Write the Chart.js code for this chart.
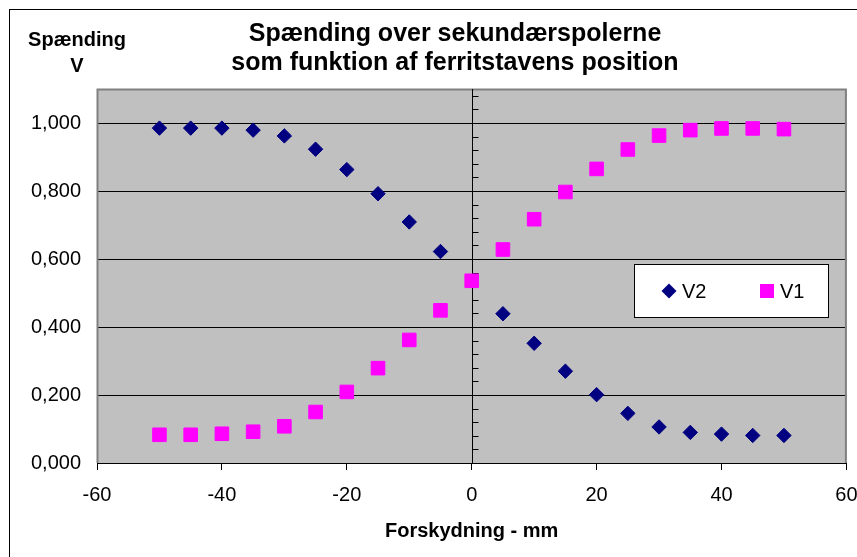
<!DOCTYPE html>
<html>
<head>
<meta charset="utf-8">
<title>Spænding over sekundærspolerne</title>
<script src="https://cdn.jsdelivr.net/npm/chart.js@4.4.1/dist/chart.umd.min.js"></script>
<style>
  html, body { margin: 0; padding: 0; background: #fff; }
  #wrap { width: 857px; height: 557px; }
</style>
</head>
<body>
<div id="wrap"><canvas id="chart" width="857" height="557"></canvas></div>
<script>
// Ferrite rod position (mm)
const positions = [-50, -45, -40, -35, -30, -25, -20, -15, -10, -5, 0, 5, 10, 15, 20, 25, 30, 35, 40, 45, 50];
// Voltage over secondary coil 2 (V)
const v2 = [0.985, 0.985, 0.985, 0.979, 0.962, 0.923, 0.863, 0.792, 0.709, 0.622, null,
            0.439, 0.352, 0.270, 0.201, 0.146, 0.106, 0.090, 0.085, 0.081, 0.081];
// Voltage over secondary coil 1 (V)
const v1 = [0.083, 0.083, 0.086, 0.092, 0.108, 0.150, 0.209, 0.279, 0.362, 0.449, 0.536,
            0.628, 0.717, 0.797, 0.865, 0.922, 0.963, 0.979, 0.984, 0.984, 0.982];

const xTicks = [-60, -40, -20, 0, 20, 40, 60];
const yTicks = [0, 0.2, 0.4, 0.6, 0.8, 1.0];
const yMinorStep = 0.04;

const titleLines = ['Spænding over sekundærspolerne', 'som funktion af ferritstavens position'];
const yTitleLines = ['Spænding', 'V'];
const xTitle = 'Forskydning - mm';

const FONT = 'Arial, "Liberation Sans", sans-serif';
Chart.defaults.font.family = FONT;
Chart.defaults.color = '#000';

const toPoints = (ys) => positions.map((x, i) => ({ x: x, y: ys[i] })).filter(p => p.y !== null);

const decor = {
  id: 'decor',
  beforeDraw(chart) {
    const { ctx, chartArea: a } = chart;
    ctx.save();
    ctx.fillStyle = '#fff';
    ctx.fillRect(0, 0, chart.width, chart.height);
    // outer frame
    ctx.strokeStyle = '#000';
    ctx.lineWidth = 1;
    ctx.strokeRect(9.5, 9.5, chart.width + 20, chart.height + 20);
    // plot area fill
    ctx.fillStyle = '#c0c0c0';
    ctx.fillRect(a.left, a.top, a.width, a.height);
    ctx.restore();
  },
  beforeDatasetsDraw(chart) {
    const { ctx, chartArea: a, scales } = chart;
    ctx.save();
    // plot area border (top, left, right)
    ctx.strokeStyle = '#808080';
    ctx.lineWidth = 2;
    ctx.beginPath();
    ctx.moveTo(a.left + 0.5, a.bottom);
    ctx.lineTo(a.left + 0.5, a.top + 0.5);
    ctx.lineTo(a.right - 0.5, a.top + 0.5);
    ctx.lineTo(a.right - 0.5, a.bottom);
    ctx.stroke();
    // vertical axis crossing at x = 0, with major and minor tick marks
    const x0 = Math.round(scales.x.getPixelForValue(0)) + 0.5;
    ctx.strokeStyle = '#000';
    ctx.lineWidth = 1;
    ctx.beginPath();
    ctx.moveTo(x0, a.top);
    ctx.lineTo(x0, a.bottom);
    const yMax = scales.y.max;
    for (let k = 1; k * yMinorStep < yMax; k++) {
      const yp = Math.round(scales.y.getPixelForValue(k * yMinorStep)) + 0.5;
      ctx.moveTo(x0, yp);
      ctx.lineTo(x0 + 6, yp);
    }
    yTicks.forEach(v => {
      const yp = Math.round(scales.y.getPixelForValue(v)) + 0.5;
      ctx.moveTo(x0 - 6, yp);
      ctx.lineTo(x0 + 6, yp);
    });
    ctx.stroke();
    ctx.restore();
  },
  afterDraw(chart) {
    const { ctx } = chart;
    ctx.save();
    ctx.fillStyle = '#000';
    ctx.textAlign = 'center';
    ctx.textBaseline = 'middle';
    // chart title
    ctx.font = 'bold 25px ' + FONT;
    ctx.fillText(titleLines[0], 455, 34);
    ctx.fillText(titleLines[1], 455, 63);
    // value axis title
    ctx.font = 'bold 20px ' + FONT;
    ctx.fillText(yTitleLines[0], 77, 40);
    ctx.fillText(yTitleLines[1], 77, 66);

    // legend box
    ctx.fillStyle = '#fff';
    ctx.fillRect(634, 264, 194, 53);
    ctx.strokeStyle = '#000';
    ctx.lineWidth = 1;
    ctx.strokeRect(634.5, 264.5, 194, 53);
    const ds = chart.data.datasets;
    const cy = 291;
    // V2 marker (diamond)
    ctx.fillStyle = ds[0].backgroundColor;
    ctx.beginPath();
    ctx.moveTo(669, cy - 7.5);
    ctx.lineTo(676.5, cy);
    ctx.lineTo(669, cy + 7.5);
    ctx.lineTo(661.5, cy);
    ctx.closePath();
    ctx.fill();
    // V1 marker (square)
    ctx.fillStyle = ds[1].backgroundColor;
    ctx.fillRect(760, cy - 7, 14, 14);
    ctx.fillStyle = '#000';
    ctx.textAlign = 'left';
    ctx.font = '20px ' + FONT;
    ctx.fillText(ds[0].label, 682, cy + 1);
    ctx.fillText(ds[1].label, 780, cy + 1);
    ctx.restore();
  }
};

new Chart(document.getElementById('chart'), {
  type: 'scatter',
  data: {
    datasets: [
      {
        label: 'V2',
        data: toPoints(v2),
        pointStyle: 'rectRot',
        pointRadius: 7.2,
        borderWidth: 1,
        backgroundColor: '#000080',
        borderColor: '#000080',
        order: 1
      },
      {
        label: 'V1',
        data: toPoints(v1),
        pointStyle: 'rect',
        pointRadius: 9.6,
        borderWidth: 1,
        backgroundColor: '#ff00ff',
        borderColor: '#ff00ff',
        order: 0
      }
    ]
  },
  options: {
    responsive: false,
    animation: false,
    events: [],
    devicePixelRatio: 1,
    layout: { padding: { top: 89, right: 8, left: 0, bottom: 0 } },
    plugins: {
      legend: { display: false },
      tooltip: { enabled: false },
      title: { display: false }
    },
    scales: {
      x: {
        type: 'linear',
        min: -60,
        max: 60,
        afterBuildTicks: (s) => { s.ticks = xTicks.map(v => ({ value: v })); },
        afterFit: (s) => { s.height = 94; s.paddingLeft = 0; s.paddingRight = 0; },
        ticks: { font: { size: 20 }, color: '#000', padding: 13, maxRotation: 0, autoSkip: false },
        grid: { drawOnChartArea: false, drawTicks: true, tickLength: 7, color: '#000', lineWidth: 1 },
        border: { display: true, color: '#000', width: 1 },
        title: {
          display: true,
          text: xTitle,
          font: { size: 20, weight: 'bold' },
          color: '#000',
          padding: { top: 0, bottom: 14 }
        }
      },
      y: {
        type: 'linear',
        min: 0,
        max: 1.1,
        afterBuildTicks: (s) => { s.ticks = yTicks.map(v => ({ value: v })); },
        afterFit: (s) => { s.width = 97; s.paddingTop = 0; s.paddingBottom = 0; },
        ticks: {
          font: { size: 20 },
          color: '#000',
          padding: 16,
          callback: (v) => Number(v).toFixed(3).replace('.', ',')
        },
        grid: { color: '#000', lineWidth: 1, drawTicks: false },
        border: { display: false }
      }
    }
  },
  plugins: [decor]
});
</script>
</body>
</html>
